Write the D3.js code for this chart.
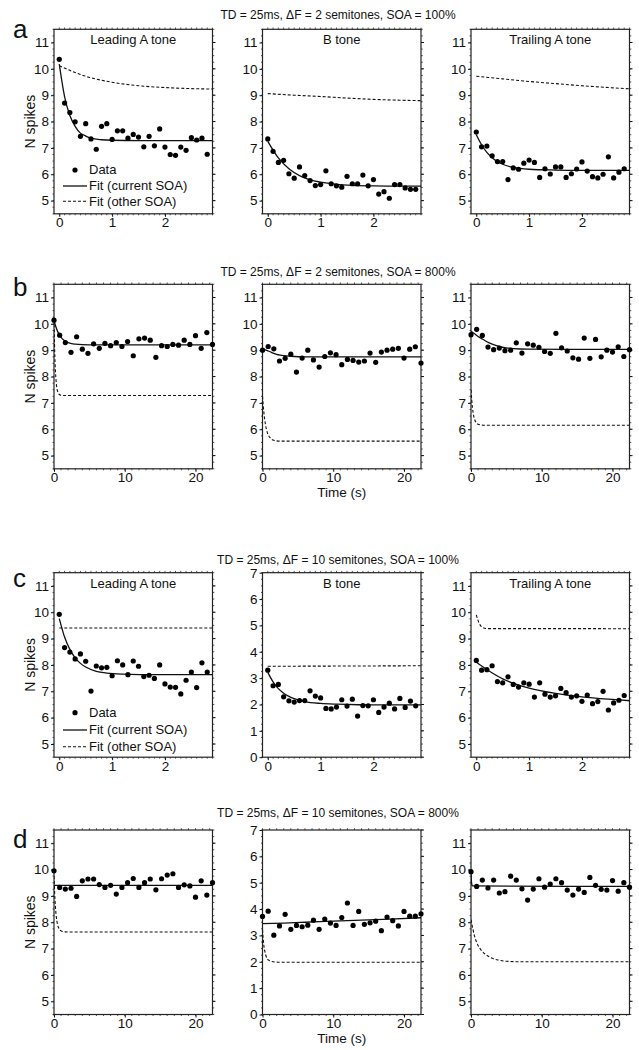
<!DOCTYPE html>
<html><head><meta charset="utf-8">
<script src="https://cdn.jsdelivr.net/npm/d3@7"></script>
<style>body{margin:0;background:#fff}svg{display:block;font-family:"Liberation Sans",Arial,sans-serif}</style>
</head><body><svg id="chart" width="639" height="1050"></svg>
<script>
// ---------- data ----------
const t100 = [0,0.1,0.2,0.3,0.4,0.5,0.6,0.7,0.8,0.9,1.0,1.1,1.2,1.3,1.4,1.5,1.6,1.7,1.8,1.9,2.0,2.1,2.2,2.3,2.4,2.5,2.6,2.7,2.8];
const t800 = [0,0.8,1.6,2.4,3.2,4.0,4.8,5.6,6.4,7.2,8.0,8.8,9.6,10.4,11.2,12.0,12.8,13.6,14.4,15.2,16.0,16.8,17.6,18.4,19.2,20.0,20.8,21.6,22.4];

const toneLabels = ["Leading A tone","B tone","Trailing A tone"];
const titles = [
  "TD = 25ms, \u0394F = 2 semitones, SOA = 100%",
  "TD = 25ms, \u0394F = 2 semitones, SOA = 800%",
  "TD = 25ms, \u0394F = 10 semitones, SOA = 100%",
  "TD = 25ms, \u0394F = 10 semitones, SOA = 800%"
];
const panelLetters = ["a","b","c","d"];
const legendLabels = ["Data","Fit (current SOA)","Fit (other SOA)"];
const yTicksA = [5,6,7,8,9,10,11];
const yTicksB = [0,1,2,3,4,5,6,7];
const xTicksShort = [0,1,2];
const xTicksLong = [0,10,20];

// row a : dF=2, SOA=100%
const aLead  = [10.36,8.70,8.34,7.99,7.44,7.92,7.34,6.95,7.82,7.92,7.32,7.65,7.65,7.37,7.51,7.41,7.04,7.44,7.08,7.72,7.03,6.75,6.72,7.03,6.91,7.39,7.30,7.37,6.76];
const aB     = [7.34,6.87,6.45,6.53,6.02,5.85,6.28,5.95,5.76,5.57,5.61,6.13,5.64,5.56,5.51,5.92,5.64,5.64,5.97,5.56,5.80,5.25,5.34,5.09,5.61,5.61,5.48,5.43,5.43];
const aTrail = [7.60,7.04,7.07,6.70,6.48,6.48,5.80,6.24,6.19,6.42,6.54,6.45,5.88,6.21,6.01,6.28,6.28,5.88,6.02,6.20,6.47,6.12,5.91,5.86,6.00,6.66,5.86,6.08,6.21];
// row b : dF=2, SOA=800%
const bLead  = [10.14,9.57,9.29,8.92,9.51,9.04,8.88,9.24,9.07,9.26,9.17,9.29,9.14,9.33,8.79,9.43,9.46,9.38,8.73,9.17,9.14,9.22,9.19,9.38,9.22,9.55,9.07,9.67,9.22];
const bB     = [9.00,9.14,9.05,8.59,8.69,8.85,8.17,8.70,9.00,8.63,8.36,8.76,8.90,8.83,8.45,8.65,8.61,8.55,8.59,8.89,8.54,8.93,9.00,9.04,9.07,8.70,9.04,9.13,8.51];
const bTrail = [9.59,9.79,9.56,9.12,9.02,9.08,8.98,9.00,9.28,8.89,9.24,9.19,9.11,8.95,8.88,9.64,9.09,8.97,8.71,8.66,9.46,8.69,9.41,8.75,9.00,8.93,9.13,8.76,9.02];
// row c : dF=10, SOA=100%
const cLead  = [9.92,8.66,8.49,8.23,8.42,8.14,7.01,7.96,7.89,7.91,7.59,8.16,8.00,7.63,8.15,7.95,7.56,7.61,7.49,8.00,7.28,7.16,7.15,6.90,7.42,7.73,7.14,8.08,7.73];
const cB     = [3.30,2.71,2.76,2.29,2.14,2.09,2.15,2.15,2.52,2.32,2.25,1.85,1.83,1.90,2.18,1.94,2.20,1.56,1.96,1.95,2.18,1.70,1.90,2.05,1.83,2.23,1.89,2.13,1.95];
const cTrail = [8.17,7.80,7.82,7.97,7.37,7.32,7.55,7.26,7.16,7.32,7.27,6.78,7.32,6.89,6.78,6.83,7.11,6.95,6.78,6.83,6.62,6.86,6.53,6.61,7.00,6.29,6.56,6.66,6.84];
// row d : dF=10, SOA=800%
const dLead  = [9.95,9.32,9.26,9.29,8.98,9.57,9.64,9.64,9.43,9.32,9.40,9.07,9.32,9.50,9.66,9.32,9.50,9.64,9.23,9.65,9.79,9.84,9.32,9.42,9.38,8.95,9.57,9.03,9.50];
const dB     = [3.72,3.92,3.01,3.36,3.80,3.23,3.38,3.33,3.39,3.58,3.23,3.62,3.47,3.38,3.68,4.23,3.38,3.91,3.42,3.48,3.54,3.18,3.70,3.56,3.36,3.91,3.73,3.73,3.82];
const dTrail = [9.92,9.36,9.60,9.30,9.60,9.11,9.16,9.75,9.60,9.27,8.84,9.26,9.65,9.33,9.45,9.65,9.50,9.22,9.03,9.26,9.13,9.70,9.40,9.25,9.22,9.58,9.18,9.50,9.33];

// fitted curves: [time (s), N spikes]
const fitF2Lead100  = [[0,10.18],[0.1,8.95],[0.2,8.23],[0.3,7.82],[0.4,7.56],[0.5,7.45],[0.6,7.37],[0.8,7.31],[1.0,7.29],[1.5,7.28],[22.4,7.28]];
const fitF2Lead800  = [[0,10.12],[0.25,9.90],[0.5,9.72],[0.75,9.59],[1,9.49],[1.5,9.36],[2,9.29],[2.5,9.25],[3,9.23],[4,9.21],[6,9.20],[22.4,9.20]];
const fitF2B100     = [[0,7.25],[0.2,6.62],[0.4,6.21],[0.6,5.95],[0.8,5.79],[1.0,5.70],[1.3,5.62],[1.6,5.58],[2.0,5.56],[2.5,5.55],[22.4,5.55]];
const fitF2B800     = [[0,9.06],[0.5,9.00],[1,8.95],[1.5,8.89],[2,8.84],[2.5,8.81],[3,8.79],[4,8.77],[6,8.75],[22.4,8.75]];
const fitF2Trail100 = [[0,7.50],[0.1,7.12],[0.2,6.83],[0.3,6.63],[0.4,6.48],[0.5,6.38],[0.7,6.26],[1.0,6.19],[1.5,6.16],[2.0,6.15],[22.4,6.15]];
const fitF2Trail800 = [[0,9.72],[0.5,9.62],[1,9.52],[1.5,9.44],[2,9.36],[2.5,9.29],[3,9.23],[4,9.14],[5,9.09],[6,9.06],[8,9.04],[22.4,9.03]];
const fitF10Lead100  = [[0,9.76],[0.1,9.06],[0.2,8.59],[0.3,8.27],[0.4,8.06],[0.5,7.92],[0.7,7.76],[0.9,7.69],[1.2,7.65],[1.6,7.635],[2.0,7.63],[22.4,7.63]];
const fitF10Lead800  = [[0,9.40],[22.4,9.40]];
const fitF10B100     = [[0,3.22],[0.1,2.86],[0.2,2.60],[0.3,2.43],[0.4,2.31],[0.5,2.22],[0.7,2.11],[1.0,2.04],[1.3,2.01],[1.7,1.99],[2.2,1.985],[22.4,1.98]];
const fitF10B800     = [[0,3.45],[3,3.47],[6,3.50],[10,3.54],[14,3.58],[18,3.62],[22.4,3.67]];
const fitF10Trail100 = [[0,8.10],[0.25,7.76],[0.5,7.47],[0.75,7.27],[1,7.12],[1.5,6.92],[2,6.79],[2.5,6.70],[3,6.63],[4,6.56],[5,6.52],[7,6.50],[22.4,6.50]];
const fitF10Trail800 = [[0,9.90],[0.05,9.60],[0.1,9.45],[0.2,9.38],[22.4,9.36]];

// ---------- panel table ----------
const panels = [
  {row:0,col:0,t:t100,v:aLead, solid:fitF2Lead100, dashed:fitF2Lead800, short:true, big:true},
  {row:0,col:1,t:t100,v:aB,    solid:fitF2B100,    dashed:fitF2B800,    short:true, big:true},
  {row:0,col:2,t:t100,v:aTrail,solid:fitF2Trail100,dashed:fitF2Trail800,short:true, big:true},
  {row:1,col:0,t:t800,v:bLead, solid:fitF2Lead800, dashed:fitF2Lead100, short:false,big:true},
  {row:1,col:1,t:t800,v:bB,    solid:fitF2B800,    dashed:fitF2B100,    short:false,big:true},
  {row:1,col:2,t:t800,v:bTrail,solid:fitF2Trail800,dashed:fitF2Trail100,short:false,big:true},
  {row:2,col:0,t:t100,v:cLead, solid:fitF10Lead100, dashed:fitF10Lead800, short:true, big:true},
  {row:2,col:1,t:t100,v:cB,    solid:fitF10B100,    dashed:fitF10B800,    short:true, big:false},
  {row:2,col:2,t:t100,v:cTrail,solid:fitF10Trail100,dashed:fitF10Trail800,short:true, big:true},
  {row:3,col:0,t:t800,v:dLead, solid:fitF10Lead800, dashed:fitF10Lead100, short:false,big:true},
  {row:3,col:1,t:t800,v:dB,    solid:fitF10B800,    dashed:fitF10B100,    short:false,big:false},
  {row:3,col:2,t:t800,v:dTrail,solid:fitF10Trail800,dashed:fitF10Trail100,short:false,big:true}
];

// ---------- layout ----------
const svg = d3.select("#chart");
const colX = [54, 262.5, 471];
const rowY = [29.3, 284.3, 572.7, 830];
const PW = 158.5, PH = 184.5;
const titleY = [19, 276, 564, 817];
const letterY = [38, 296, 587, 848];
const ink = "#111";

titles.forEach((s,i)=>{
  svg.append("text").attr("x",338).attr("y",titleY[i]).attr("text-anchor","middle")
    .attr("font-size",12).attr("fill",ink).text(s);
  svg.append("text").attr("x",13).attr("y",letterY[i]).attr("font-size",26).attr("fill",ink).text(panelLetters[i]);
  svg.append("text").attr("transform",`translate(35,${rowY[i]+PH/2}) rotate(-90)`)
    .attr("text-anchor","middle").attr("font-size",14).attr("fill",ink).text("N spikes");
});

panels.forEach((p,k)=>{
  const g = svg.append("g").attr("transform",`translate(${colX[p.col]},${rowY[p.row]})`);
  const xd = p.short ? [-0.1,2.9] : [0,22.4];
  const yd = p.big ? [4.5,11.5] : [0,7];
  const x = d3.scaleLinear().domain(xd).range([0,PW]);
  const y = d3.scaleLinear().domain(yd).range([PH,0]);
  const id = "clip"+k;
  g.append("clipPath").attr("id",id).append("rect").attr("width",PW).attr("height",PH);

  // minor ticks on all edges
  const mx = p.short ? d3.range(0,2.91,0.1) : d3.range(0,22.41,1);
  const my = d3.range(Math.ceil(yd[0]*4)/4, yd[1]+0.001, 0.25);
  const mt = g.append("g").attr("stroke",ink).attr("stroke-width",0.7);
  mx.forEach(v=>{
    mt.append("line").attr("x1",x(v)).attr("x2",x(v)).attr("y1",0).attr("y2",-1.8);
    mt.append("line").attr("x1",x(v)).attr("x2",x(v)).attr("y1",PH).attr("y2",PH+1.5);
  });
  my.forEach(v=>{
    mt.append("line").attr("x1",0).attr("x2",-1.5).attr("y1",y(v)).attr("y2",y(v));
    mt.append("line").attr("x1",PW).attr("x2",PW+1.8).attr("y1",y(v)).attr("y2",y(v));
  });

  // axes
  const ya = g.append("g").call(d3.axisLeft(y).tickValues(p.big?yTicksA:yTicksB).tickSize(3).tickPadding(2).tickFormat(d3.format("d")));
  const xa = g.append("g").attr("transform",`translate(0,${PH})`)
    .call(d3.axisBottom(x).tickValues(p.short?xTicksShort:xTicksLong).tickSize(3).tickPadding(1).tickFormat(d3.format("d")));
  [ya,xa].forEach(a=>{
    a.select(".domain").remove();
    a.selectAll("line").attr("stroke",ink).attr("stroke-width",1);
    a.selectAll("text").attr("font-size",13.5).attr("fill",ink).attr("font-family","Liberation Sans, Arial, sans-serif");
  });
  // right-side major ticks
  (p.big?yTicksA:yTicksB).forEach(v=>{
    g.append("line").attr("x1",PW).attr("x2",PW+3).attr("y1",y(v)).attr("y2",y(v)).attr("stroke",ink);
  });

  // frame
  g.append("rect").attr("width",PW).attr("height",PH).attr("fill","none").attr("stroke","#222").attr("stroke-width",1.2);

  // fits
  const line = d3.line().x(d=>x(d[0])).y(d=>y(d[1])).curve(d3.curveMonotoneX);
  const cg = g.append("g").attr("clip-path",`url(#${id})`);
  cg.append("path").attr("d",line(p.dashed)).attr("fill","none").attr("stroke",ink)
    .attr("stroke-width",1.1).attr("stroke-dasharray","3,2");
  cg.append("path").attr("d",line(p.solid)).attr("fill","none").attr("stroke",ink).attr("stroke-width",1.3);

  // data points
  g.append("g").selectAll("circle").data(p.v).join("circle")
    .attr("cx",(d,i)=>x(p.t[i])).attr("cy",d=>y(d)).attr("r",2.6).attr("fill","#000");

  // tone label (rows a and c only)
  if (p.row===0 || p.row===2) {
    g.append("text").attr("x",PW/2).attr("y",15).attr("text-anchor","middle")
      .attr("font-size",13).attr("fill",ink).text(toneLabels[p.col]);
  }
  // Time label
  if ((p.row===1 || p.row===3) && p.col===1) {
    g.append("text").attr("x",PW/2).attr("y",PH+28).attr("text-anchor","middle")
      .attr("font-size",13.5).attr("fill",ink).text("Time (s)");
  }
  // legend
  if ((p.row===0 || p.row===2) && p.col===0) {
    const ly = p.row===0 ? [140.7,156.7,172] : [140,157.3,174];
    const lg = g.append("g");
    lg.append("circle").attr("cx",21).attr("cy",ly[0]).attr("r",2.6).attr("fill","#000");
    lg.append("line").attr("x1",9).attr("x2",33).attr("y1",ly[1]).attr("y2",ly[1]).attr("stroke",ink).attr("stroke-width",1.3);
    lg.append("line").attr("x1",9).attr("x2",33).attr("y1",ly[2]).attr("y2",ly[2]).attr("stroke",ink)
      .attr("stroke-width",1.1).attr("stroke-dasharray","3,2");
    legendLabels.forEach((s,i)=>{
      lg.append("text").attr("x",35).attr("y",ly[i]+4.5).attr("font-size",13).attr("fill",ink).text(s);
    });
  }
});
</script>
</body></html>
